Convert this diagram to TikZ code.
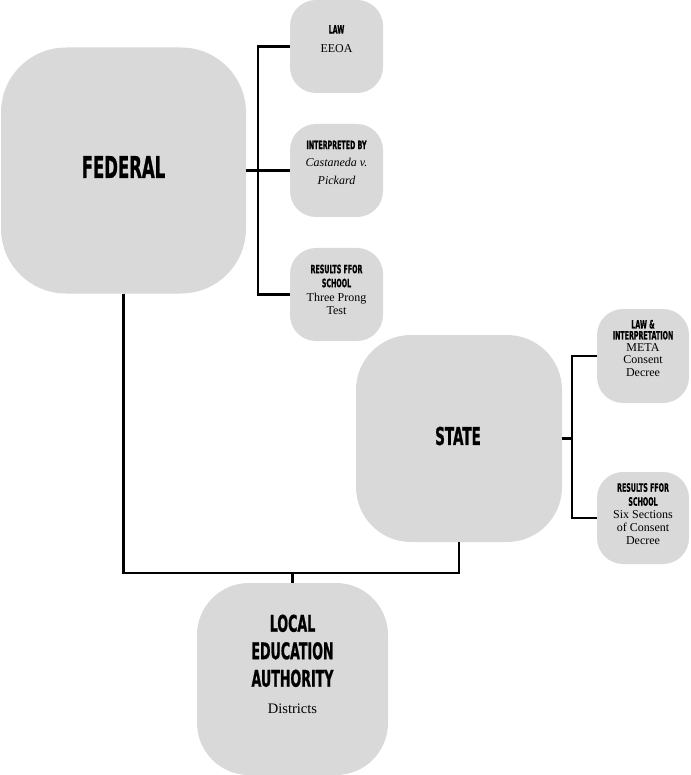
\documentclass[tikz,border=0pt]{standalone}
\usepackage{fontspec}
\setmainfont{Liberation Serif}
\newfontfamily\headfont[FakeStretch=0.55,FakeBold=0.8]{DejaVu Sans}
\newcommand\smallhead{\headfont\bfseries\fontsize{11.5}{11.5}\selectfont}
\newcommand\bighead[1]{\headfont\bfseries\fontsize{#1}{#1}\selectfont}
\definecolor{boxgray}{HTML}{D9D9D9}
\begin{document}
\begin{tikzpicture}[x=1pt,y=-1pt,
  box/.style={draw=none, fill=boxgray, rectangle, rounded corners=#1, inner sep=0pt},
  conn/.style={draw=black, line width=2.3pt},
  label/.style={inner sep=0pt, align=center, font=\fontsize{12}{13}\selectfont}]
\useasboundingbox (0,0) rectangle (690,775);
% boxes
\node[box=65, minimum width=245pt, minimum height=246pt] (federal) at (123.5,170.5) {};
\node[box=26, minimum width=93pt, minimum height=93pt] (law) at (336.5,46.5) {};
\node[box=26, minimum width=93pt, minimum height=93pt] (interp) at (336.5,170.5) {};
\node[box=26, minimum width=93pt, minimum height=93pt] (results) at (336.5,294.5) {};
\node[box=55, minimum width=206pt, minimum height=207pt] (state) at (459,438.5) {};
\node[box=26, minimum width=92pt, minimum height=94pt] (stlaw) at (643,356) {};
\node[box=26, minimum width=92pt, minimum height=92pt] (stres) at (643,518) {};
\node[box=52, minimum width=191pt, minimum height=192pt] (local) at (292.5,679) {};
% connectors
\coordinate (fb) at (258,170.5);
\coordinate (sb) at (572,438.5);
\coordinate (jn) at (292.5,573);
\draw[conn] (law.west) -| (fb) |- (results.west);
\draw[conn] (federal.east) -- (interp.west);
\draw[conn] (stlaw.west) -| (sb) |- (stres.west);
\draw[conn] (state.east) -- (sb);
\draw[conn] (federal.south) |- (jn) -| (state.south);
\draw[conn] (jn) -- (local.north);
% texts
\node[label] (fedtxt) at (123.5,167) {\bighead{30}FEDERAL};
\node[label] (statetxt) at (458,436) {\bighead{24.5}STATE};
\node[label] (lawtxt) at (336.5,39) {{\smallhead LAW}\\[6pt]EEOA};
\node[label] (interptxt) at (336.5,162.5) {{\smallhead INTERPRETED BY}\\[4pt]\textit{Castaneda v.}\\[5pt]\textit{Pickard}};
\node[label] (resultstxt) at (336.5,289.5) {{\smallhead RESULTS FFOR}\\[1pt]{\smallhead SCHOOL}\\[1pt]Three Prong\\Test};
\node[label] (stlawtxt) at (643,348.5) {{\smallhead LAW \&}\\[-2pt]{\smallhead INTERPRETATION}\\[-1pt]META\\[-0.5pt]Consent\\Decree};
\node[label] (strestxt) at (643,514) {{\smallhead RESULTS FFOR}\\[1pt]{\smallhead SCHOOL}\\Six Sections\\of Consent\\Decree};
\node[label, font=\fontsize{14.5}{27.5}\selectfont] (localtxt) at (292.5,664) {{\bighead{23}LOCAL}\\{\bighead{23}EDUCATION}\\{\bighead{23}AUTHORITY}\\[-1pt]Districts};
\end{tikzpicture}
\end{document}
